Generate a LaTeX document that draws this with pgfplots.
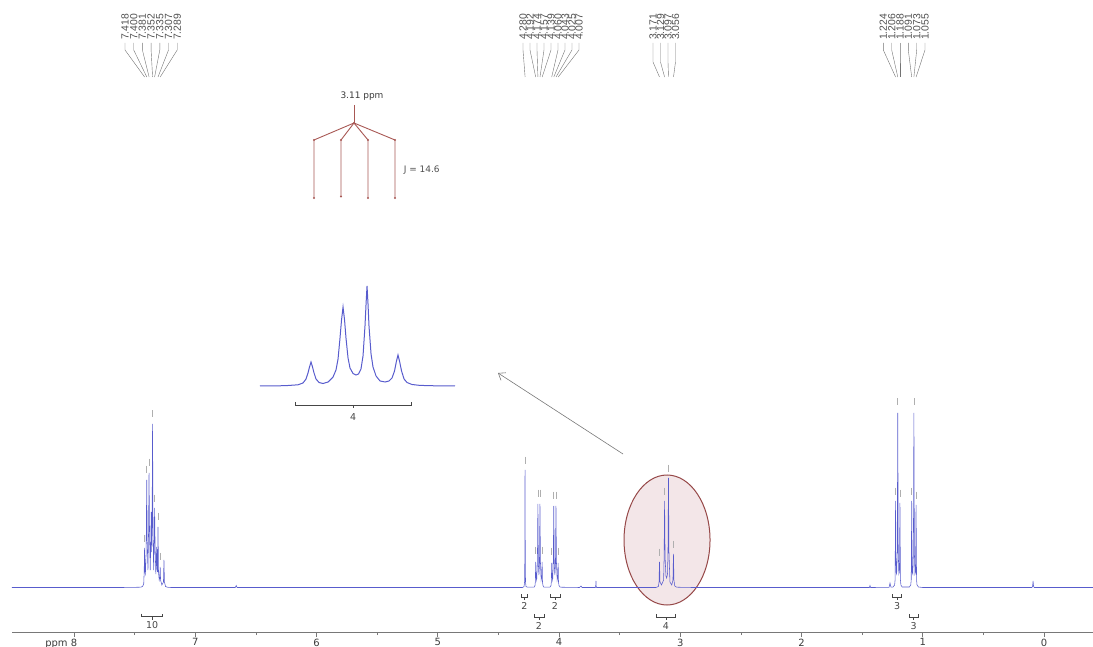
\documentclass[border=0pt]{standalone}
\usepackage{pgfplots}
\pgfplotsset{compat=1.18}
\usetikzlibrary{arrows.meta}
\usepackage{fontspec}
\setmainfont{DejaVu Sans}
\newfontfamily\labfont{Liberation Sans}
\definecolor{spec}{RGB}{88,92,205}
\definecolor{axisgray}{RGB}{120,120,120}
\definecolor{tickgray}{RGB}{60,60,60}
\definecolor{pickgray}{RGB}{175,175,175}
\definecolor{intc}{RGB}{70,70,70}
\definecolor{ellE}{RGB}{150,72,72}
\definecolor{ellF}{RGB}{243,230,232}
\definecolor{treec}{RGB}{168,88,84}
\definecolor{arrowgray}{RGB}{120,120,120}
\definecolor{labgray}{RGB}{80,80,80}
\tikzset{
  intb/.style={draw=intc, line width=0.6bp},
  intlab/.style={text=intc, font=\fontsize{9.5}{11}\selectfont, inner sep=0pt},
  leader/.style={draw=labgray!80, line width=0.4bp},
  toplab/.style={text=labgray, font=\labfont\fontsize{10.4}{12}\selectfont, inner sep=0pt, rotate=90, anchor=west},
  tree/.style={draw=treec, line width=0.9bp},
}
\begin{document}
\begin{tikzpicture}
\begin{axis}[
  scale only axis, width=1081bp, height=632bp,
  xmin=-0.4041, xmax=8.5113, ymin=0, ymax=632, x dir=reverse,
  axis x line=bottom, axis y line=none,
  x axis line style={-, draw=axisgray, line width=0.6bp},
  xtick={0,1,2,3,4,5,6,7,8},
  xticklabels={0,1,2,3,4,5,6,7,{\llap{ppm\ }8}},
  minor x tick num=1,
  tick align=outside, major tick length=5bp, minor tick length=3bp,
  tick style={draw=axisgray, line width=0.6bp},
  xticklabel style={font=\fontsize{10}{12}\selectfont, text=tickgray, inner sep=1.5bp},
  clip=false,
]
\coordinate (P0) at (axis cs:8.61031,632);
\coordinate (insetSW) at (axis cs:6.466,246);
% highlight ellipse
\draw[draw=ellE, fill=ellF, line width=1bp] (axis cs:3.109,92) ellipse [x radius=43bp, y radius=65bp];
% arrow to inset
\draw[draw=arrowgray, line width=0.6bp, -{Straight Barb[length=6bp,width=9bp]}] (axis cs:3.472,178) -- (axis cs:4.503,259);
% spectrum
\addplot[spec, line width=0.55bp] coordinates {
(8.5113,44.5) (7.60,44.5) (7.45,44.8) (7.435,45.5) (7.425,48) (7.421,60) (7.418,84) (7.415,60) (7.411,58) (7.405,80) (7.400,152) (7.396,90) (7.390,62) (7.385,100) (7.381,159) (7.377,100) (7.371,62) (7.366,95) (7.363,120) (7.360,80) (7.356,100) (7.352,208) (7.348,100) (7.343,62) (7.338,90) (7.335,124) (7.331,85) (7.325,58) (7.321,70) (7.318,85) (7.315,65) (7.311,60) (7.307,105) (7.303,60) (7.297,52) (7.292,55) (7.289,65) (7.286,52) (7.275,47) (7.262,50) (7.258,72) (7.254,50) (7.245,45.5) (7.23,44.8) (7.20,44.5)
(6.67,44.5) (6.662,46.5) (6.655,44.5)
(4.30,44.5) (4.288,45.5) (4.284,50) (4.282,70) (4.280,162) (4.278,70) (4.276,50) (4.272,45.5) (4.26,44.8)
(4.205,44.8) (4.198,46.5) (4.195,50) (4.192,70) (4.189,55) (4.184,52) (4.178,70) (4.174,128) (4.170,68) (4.1655,57) (4.161,68) (4.157,128) (4.153,70) (4.147,52) (4.142,55) (4.139,70) (4.136,50) (4.132,46.5) (4.125,44.8)
(4.075,44.8) (4.066,46.5) (4.063,50) (4.060,69) (4.057,55) (4.052,52) (4.047,70) (4.043,126) (4.039,68) (4.034,57) (4.029,68) (4.025,126) (4.021,70) (4.015,52) (4.010,55) (4.007,69) (4.004,50) (4.000,46.5) (3.990,44.8)
(3.83,44.5) (3.818,46) (3.81,44.5) (3.70,44.5) (3.697,46) (3.695,51) (3.693,46) (3.69,44.5)
(3.20,44.5) (3.18,45.5) (3.175,50) (3.171,70) (3.167,50) (3.155,47) (3.137,52) (3.133,75) (3.129,131) (3.125,75) (3.118,56) (3.112,54) (3.105,58) (3.101,80) (3.097,154) (3.093,80) (3.085,50) (3.070,47) (3.060,52) (3.056,78) (3.052,52) (3.045,46) (3.03,44.8) (2.9,44.5)
(1.44,44.5) (1.435,46.5) (1.43,44.5) (1.278,44.6) (1.270,49) (1.262,44.8)
(1.245,45) (1.232,47) (1.228,52) (1.224,131) (1.220,60) (1.215,58) (1.210,80) (1.206,219) (1.202,80) (1.197,58) (1.192,60) (1.188,129) (1.184,52) (1.180,47) (1.17,45)
(1.11,45) (1.099,47) (1.095,52) (1.091,131) (1.087,60) (1.082,58) (1.077,80) (1.073,219) (1.069,80) (1.064,58) (1.059,60) (1.055,127) (1.051,52) (1.047,47) (1.035,45) (1.0,44.5)
(0.10,44.5) (0.094,45.5) (0.09,51) (0.086,45.5) (0.08,44.5) (-0.4041,44.5)
};
% peak picking marks
\addplot[only marks, mark=|, mark size=3.5bp, mark options={draw=pickgray, line width=0.7bp}] coordinates {
(7.418,94) (7.400,163) (7.381,170) (7.352,218) (7.335,134) (7.307,116) (7.289,76)
(4.280,172) (4.192,82) (4.174,139) (4.157,139) (4.139,82)
(4.060,81) (4.043,137) (4.025,137) (4.007,81)
(3.171,80) (3.129,141) (3.097,164) (3.056,88)
(1.224,141) (1.206,230) (1.188,139) (1.091,141) (1.073,230) (1.055,137)
};
% integrals
\draw[intb] (axis cs:7.442,18.3) -- (axis cs:7.442,15.3) -- (axis cs:7.268,15.3) -- (axis cs:7.268,18.3);
\draw[intb] (axis cs:7.355,15.3) -- (axis cs:7.355,12.3);
\node[intlab] at (axis cs:7.355,6.5) {10};
\draw[intb] (axis cs:4.308,38) -- (axis cs:4.308,35) -- (axis cs:4.264,35) -- (axis cs:4.264,38);
\draw[intb] (axis cs:4.286,35) -- (axis cs:4.286,32);
\node[intlab] at (axis cs:4.286,26) {2};
\draw[intb] (axis cs:4.074,38) -- (axis cs:4.074,35) -- (axis cs:3.992,35) -- (axis cs:3.992,38);
\draw[intb] (axis cs:4.033,35) -- (axis cs:4.033,32);
\node[intlab] at (axis cs:4.033,26) {2};
\draw[intb] (axis cs:4.206,18) -- (axis cs:4.206,15) -- (axis cs:4.124,15) -- (axis cs:4.124,18);
\draw[intb] (axis cs:4.165,15) -- (axis cs:4.165,12);
\node[intlab] at (axis cs:4.165,6) {2};
\draw[intb] (axis cs:3.194,18) -- (axis cs:3.194,15) -- (axis cs:3.041,15) -- (axis cs:3.041,18);
\draw[intb] (axis cs:3.1175,15) -- (axis cs:3.1175,12);
\node[intlab] at (axis cs:3.1175,6) {4};
\draw[intb] (axis cs:1.248,38) -- (axis cs:1.248,35) -- (axis cs:1.173,35) -- (axis cs:1.173,38);
\draw[intb] (axis cs:1.2105,35) -- (axis cs:1.2105,32);
\node[intlab] at (axis cs:1.2105,26) {3};
\draw[intb] (axis cs:1.113,18) -- (axis cs:1.113,15) -- (axis cs:1.039,15) -- (axis cs:1.039,18);
\draw[intb] (axis cs:1.076,15) -- (axis cs:1.076,12);
\node[intlab] at (axis cs:1.076,6) {3};
\end{axis}

% inset: expanded quartet at 3.11 ppm
\begin{axis}[at={(insetSW)}, anchor=south west, scale only axis, width=195bp, height=100bp,
  xmin=2.9808, xmax=3.2384, x dir=reverse, ymin=0, ymax=100, hide axis, clip=false]
\addplot[spec, line width=1bp] coordinates {
(3.2384,0) (3.2053,0.3) (3.1882,1.2) (3.1816,3) (3.1776,7) (3.1750,13) (3.1730,19) (3.1710,24) (3.1690,19) (3.1670,13) (3.1644,7) (3.1604,3.5) (3.1551,2.5) (3.1485,4) (3.1419,9) (3.1380,16) (3.1353,27) (3.1327,48) (3.1307,66) (3.1287,79) (3.1267,66) (3.1248,48) (3.1221,28) (3.1195,18) (3.1155,12.5) (3.1116,11) (3.1083,12) (3.1050,17) (3.1023,30) (3.0997,60) (3.0983,82) (3.0970,100) (3.0957,82) (3.0944,60) (3.0917,32) (3.0891,19) (3.0851,10) (3.0798,5) (3.0732,4) (3.0680,5) (3.0640,8) (3.0607,15) (3.0581,25) (3.0561,31) (3.0541,25) (3.0514,15) (3.0481,7) (3.0442,3.5) (3.0376,1.5) (3.0270,0.6) (3.0072,0.2) (2.9808,0)
};
\draw[intb] (axis cs:3.192,-16) -- (axis cs:3.192,-19) -- (axis cs:3.039,-19) -- (axis cs:3.039,-16);
\draw[intb] (axis cs:3.1155,-19) -- (axis cs:3.1155,-22);
\node[intlab] at (axis cs:3.1155,-31) {4};
\end{axis}

% annotations in pixel coordinates of the page
\begin{scope}[shift={(P0)}, x=1bp, y=-1bp]
\foreach \L/\P/\t in {125/144.6/7.418, 133.7/146.8/7.400, 142.4/149.1/7.381, 151.1/152.6/7.352, 159.8/154.6/7.335, 168.5/158.0/7.307, 177.2/160.2/7.289,
  523/525.1/4.280, 530/535.7/4.192, 537/537.9/4.174, 544/540.0/4.157, 551/542.2/4.139, 558/551.7/4.060, 565/553.8/4.043, 572/556.0/4.025, 579/558.2/4.007,
  883.3/895.6/1.224, 891.7/897.8/1.206, 900/900.0/1.188, 908.3/911.7/1.091, 916.7/913.9/1.073, 925/916.1/1.055}{
  \draw[leader] (\L,43) -- (\L,50) -- (\P,77);
  \node[toplab] at (\L,40) {\t};
}
\foreach \L/\P/\t in {653/659.5/3.171, 660.5/664.6/3.129, 668/668.5/3.097, 675.5/673.5/3.056}{
  \draw[leader] (\L,43) -- (\L,62) -- (\P,77);
  \node[toplab] at (\L,40) {\t};
}
% multiplet tree
\node[text=tickgray, font=\fontsize{9}{11}\selectfont, inner sep=0pt] at (362,96.5) {3.11 ppm};
\draw[tree] (354,105) -- (354,123);
\draw[tree] (354,123) -- (314,140) -- (314,198);
\draw[tree] (354,123) -- (341,140) -- (341,196.5);
\draw[tree] (354,123) -- (368,140) -- (368,198);
\draw[tree] (354,123) -- (395,140) -- (395,198);
\foreach \x/\y in {314/140, 341/140, 368/140, 395/140, 354/123, 314/198, 341/196.5, 368/198, 395/198}{
  \fill[treec] (\x,\y) circle (1.1bp);
}
\node[text=labgray, font=\fontsize{9}{11}\selectfont, inner sep=0pt] at (421.7,170) {J = 14.6};
\end{scope}
\pgfresetboundingbox
\path[use as bounding box] (P0) rectangle ++(1093bp,-647bp);
\end{tikzpicture}
\end{document}
